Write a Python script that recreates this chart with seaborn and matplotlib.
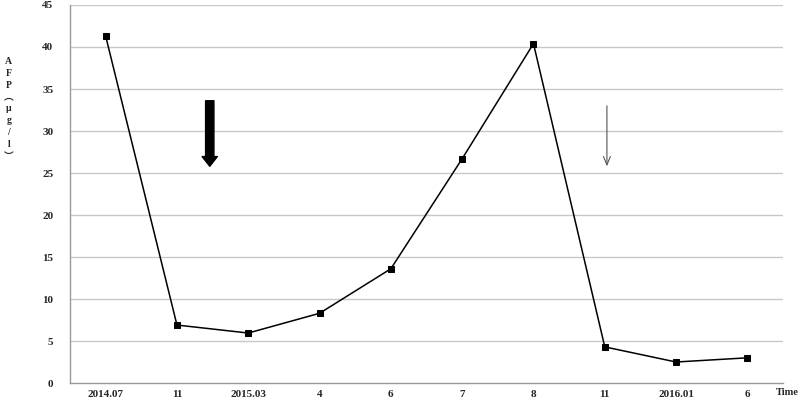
import numpy as np
import seaborn as sns
import matplotlib
matplotlib.use("Agg")
import matplotlib.pyplot as plt

# data
time_labels = ["2014.07", "11", "2015.03", "4", "6", "7", "8", "11", "2016.01", "6"]
afp = [41.3, 6.9, 5.95, 8.3, 13.6, 26.7, 40.4, 4.3, 2.5, 3.0]
pos = list(range(len(time_labels)))

sns.set_style("white")
plt.rcParams['font.family'] = ['Liberation Serif', 'Noto Sans CJK SC', 'DejaVu Sans']

fig = plt.figure(figsize=(8, 4.03), dpi=100)
ax = fig.add_axes([0.0875, 0.0496, 0.8913, 0.938])

# horizontal grid
for yv in range(5, 50, 5):
    ax.axhline(yv, color="#c8c8c8", lw=1, zorder=0)

sns.lineplot(x=pos, y=afp, ax=ax, color="black", lw=1.1,
             marker="s", markersize=4.2, markeredgecolor="black")

ax.set_xlim(-0.5, 9.5)
ax.set_ylim(0, 45)
ax.set_yticks(range(0, 50, 5))
ax.set_xticks(pos)
ax.set_xticklabels(time_labels, fontsize=8, fontweight="bold")
ax.set_xticks(np.arange(-0.5, 10, 1), minor=True)
ax.tick_params(axis="x", which="major", length=0, pad=5)
ax.tick_params(axis="x", which="minor", length=3, color="#999999", direction="inout")
ax.tick_params(axis="y", length=4, color="#999999", labelsize=8, pad=8)
for lab in ax.get_yticklabels():
    lab.set_fontweight("bold")

for s in ["top", "right"]:
    ax.spines[s].set_visible(False)
for s in ["left", "bottom"]:
    ax.spines[s].set_color("#999999")
    ax.spines[s].set_linewidth(1)

# arrows
ax.annotate("", xy=(1.46, 25.8), xytext=(1.46, 33.6),
            arrowprops=dict(arrowstyle="simple,head_width=1.1,head_length=0.7,tail_width=0.6",
                            color="black", shrinkA=0, shrinkB=0))
ax.annotate("", xy=(7.03, 25.8), xytext=(7.03, 33.0),
            arrowprops=dict(arrowstyle="->,head_width=0.25,head_length=0.6",
                            color="#555555", lw=0.8, shrinkA=0, shrinkB=0))

fig.text(0.999, 0.027, "Time", fontsize=7.5, fontweight="bold", ha="right", va="center")
fig.text(0.011, 0.73, "A\nF\nP\n︵\nμ\ng\n/\nl\n︶", fontsize=7, fontweight="bold",
         ha="center", va="center", linespacing=1.4)

fig.savefig("out.png", dpi=100)
